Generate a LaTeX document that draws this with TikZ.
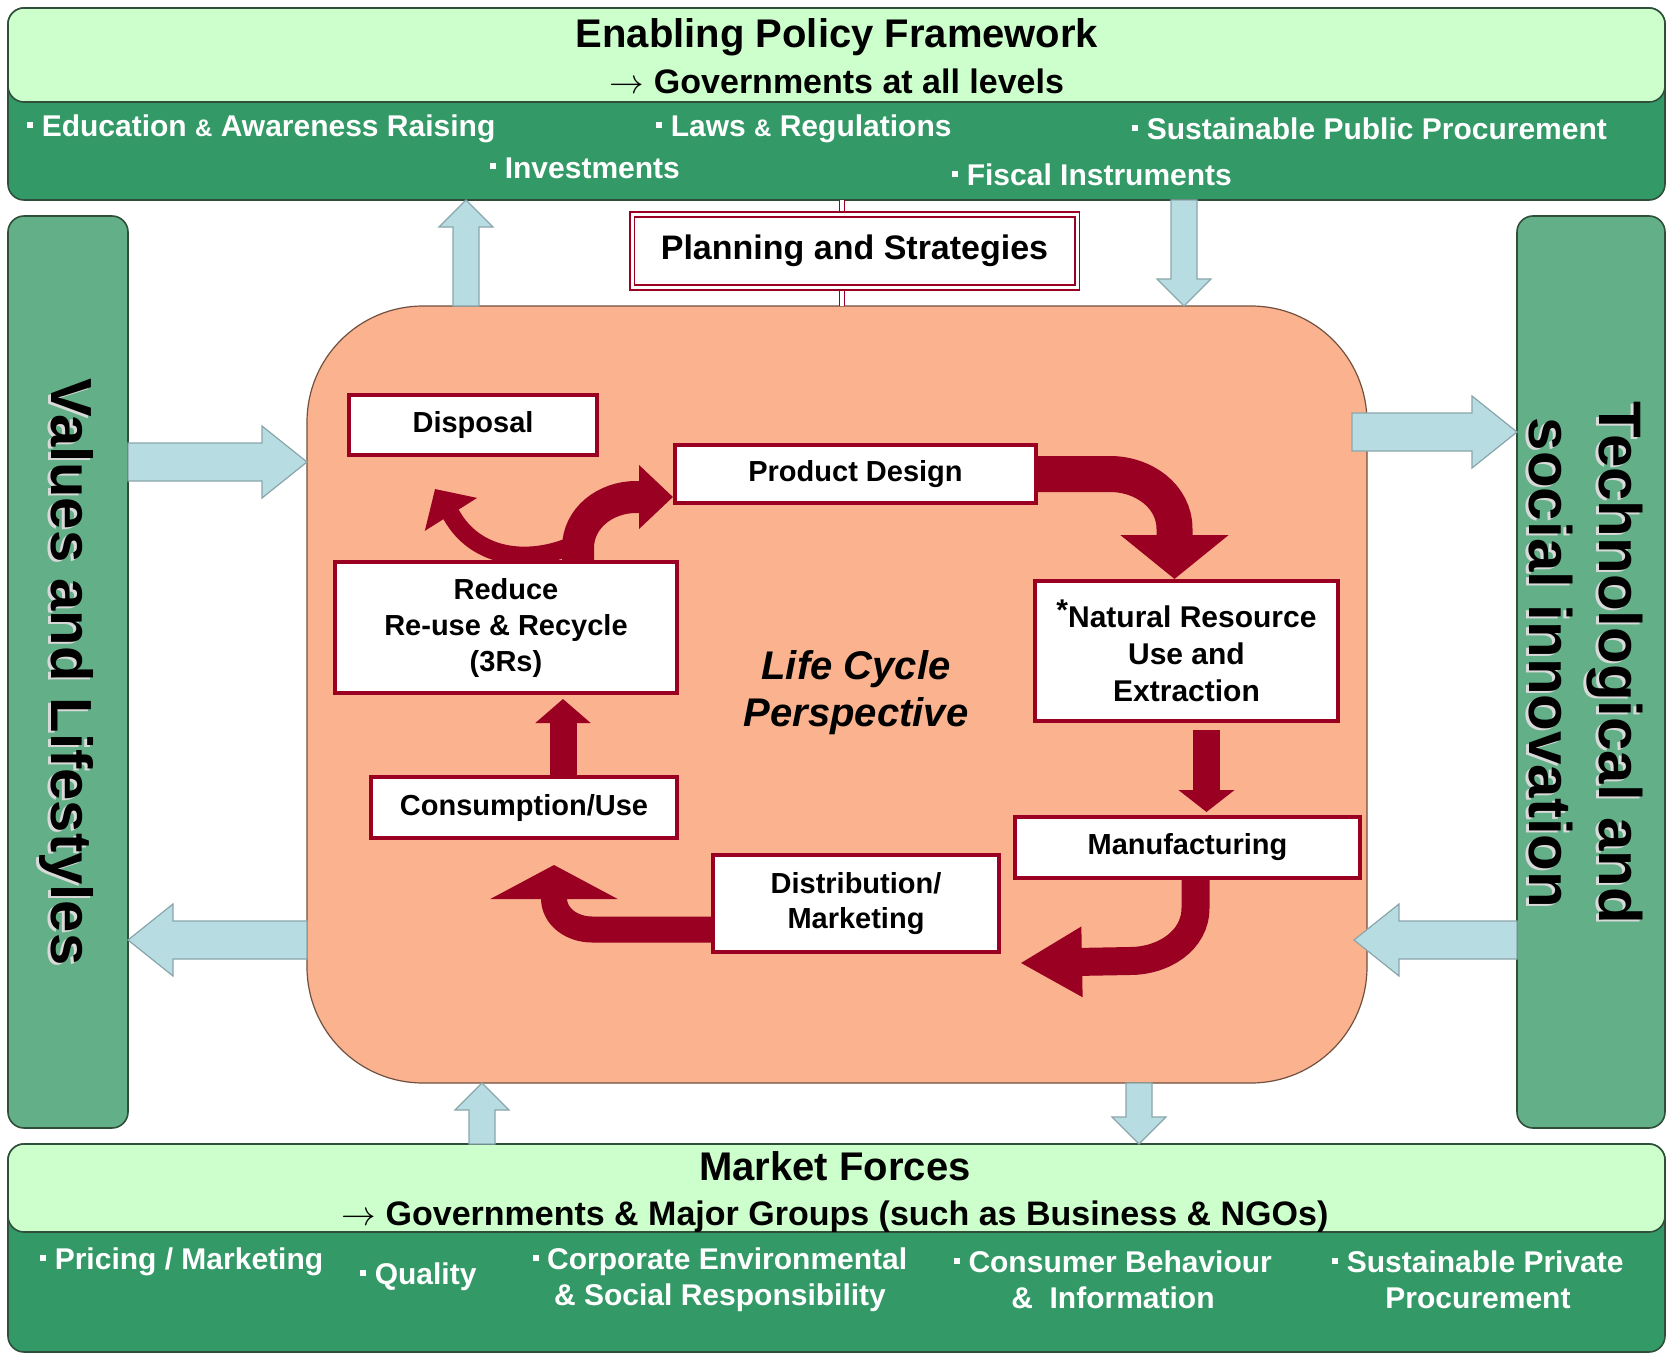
\documentclass[tikz,border=0pt]{standalone}
\usepackage{fontspec}
\setmainfont{Liberation Sans}
\usetikzlibrary{arrows.meta,calc}
\definecolor{lgreen}{HTML}{CCFFCC}
\definecolor{dgreen}{HTML}{339966}
\definecolor{mgreen}{HTML}{63B088}
\definecolor{salmon}{HTML}{FAB28F}
\definecolor{dred}{HTML}{990022}
\definecolor{lblue}{HTML}{B7DDE3}
\definecolor{bgrey}{HTML}{8AA7AC}
\definecolor{edgec}{HTML}{2F4F3A}
\pgfdeclarelayer{bg}\pgfdeclarelayer{mid}\pgfsetlayers{bg,mid,main}
\newcommand\bsq{\raisebox{0.3em}{\rule{0.2em}{0.2em}}\hspace{0.28em}}
\newcommand\smallamp{{\fontsize{12}{12}\selectfont\&}}
\newcommand\myfs[1]{\fontsize{#1}{#1}\selectfont}
% horizontal block arrow: from x=#1 to tip x=#2 at y=#3, direction #4 (1 right, -1 left)
\newcommand\harr[4]{\filldraw[barrow] ({#1},{#3-19}) -- ({#2-45*#4},{#3-19}) -- ({#2-45*#4},{#3-36}) -- ({#2},{#3}) -- ({#2-45*#4},{#3+36}) -- ({#2-45*#4},{#3+19}) -- ({#1},{#3+19}) -- cycle;}
% vertical block arrow: at x=#1 from y=#2 to tip y=#3, direction #4 (1 down, -1 up)
\newcommand\varr[4]{\filldraw[barrow] ({#1-13},{#2}) -- ({#1-13},{#3-27*#4}) -- ({#1-27},{#3-27*#4}) -- ({#1},{#3}) -- ({#1+27},{#3-27*#4}) -- ({#1+13},{#3-27*#4}) -- ({#1+13},{#2}) -- cycle;}
\begin{document}
\begin{tikzpicture}[x=0.5pt,y=-0.5pt,
  box/.style={draw=dred, line width=2pt, fill=white, inner sep=0pt, font=\myfs{14.5}\bfseries, align=center},
  barrow/.style={fill=lblue, draw=bgrey, line width=0.6pt},
  band/.style={draw=edgec, line width=0.8pt, rounded corners=8pt},
  wtxt/.style={text=white, font=\myfs{15}\bfseries, inner sep=0pt, anchor=west},
  rarrow/.style={draw=dred, line cap=butt}]
\useasboundingbox (0,0) rectangle (1672,1354);
\begin{pgfonlayer}{bg}
  \fill[white] (0,0) rectangle (1672,1354);
  \draw[band, fill=dgreen] (8,8) rectangle (1665,200);
  \draw[band, fill=lgreen] (8,8) rectangle (1665,102);
  \draw[band, fill=dgreen] (8,1144) rectangle (1665,1352);
  \draw[band, fill=lgreen] (8,1144) rectangle (1665,1232);
  \draw[band, fill=mgreen] (8,216) rectangle (128,1128);
  \draw[band, fill=mgreen] (1517,216) rectangle (1665,1128);
  \draw[fill=salmon, draw=salmon!45!black, line width=0.6pt, rounded corners=58pt] (307,306) rectangle (1367,1083);
\end{pgfonlayer}

% top band texts
\node[font=\myfs{20}\bfseries] (t1) at (837,37) {Enabling Policy Framework};
\node[font=\myfs{17}\bfseries] (t2) at (837,81) {$\rightarrow$ Governments at all levels};
\node[wtxt] (p1) at (27,129) {\bsq Education \smallamp{} Awareness Raising};
\node[wtxt] (p2) at (656,129) {\bsq Laws \smallamp{} Regulations};
\node[wtxt] (p3) at (1132,129) {\bsq Sustainable Public Procurement};
\node[wtxt] (p4) at (490,168) {\bsq Investments};
\node[wtxt] (p5) at (952,175) {\bsq Fiscal Instruments};

% bottom band texts
\node[font=\myfs{20}\bfseries] (m1) at (835,1166) {Market Forces};
\node[font=\myfs{17}\bfseries] (m2) at (835,1217) {$\rightarrow$ Governments \& Major Groups (such as Business \& NGOs)};
\node[wtxt] (q1) at (40,1262) {\bsq Pricing / Marketing};
\node[wtxt] (q2) at (360,1277) {\bsq Quality};
\node[wtxt, anchor=center, align=center, font=\fontsize{15}{18}\bfseries] (q3) at (720,1280) {\bsq Corporate Environmental\\ \& Social Responsibility};
\node[wtxt, anchor=center, align=center, font=\fontsize{15}{18}\bfseries] (q4) at (1113,1280) {\bsq Consumer Behaviour\\ \&\ \ Information};
\node[wtxt, anchor=center, align=center, font=\fontsize{15}{18}\bfseries] (q5) at (1478,1280) {\bsq Sustainable Private\\ Procurement};

% side panel texts
\node[rotate=-90, font=\myfs{29}\bfseries, text=white!70!gray] at (63,674) {Values and Lifestyles};
\node[rotate=-90, font=\myfs{29}\bfseries] (vl) at (66,672) {Values and Lifestyles};
\node[rotate=-90, font=\fontsize{30}{35}\bfseries, align=center, text=white!70!gray] at (1583,665) {Technological and\\ social innovation};
\node[rotate=-90, font=\fontsize{30}{35}\bfseries, align=center] (ti) at (1586,663) {Technological and\\ social innovation};

% centre
\node[font=\fontsize{20}{23.5}\bfseries\itshape, align=center] (lc) at (856,693) {Life Cycle\\ Perspective};
\node[draw=dred, double=white, double distance=1.5pt, line width=0.9pt, fill=white, minimum width=222.5pt, minimum height=36.5pt, inner sep=0pt, font=\myfs{17}\bfseries] (plan) at (854.5,251) {Planning and Strategies};

\node[box, minimum width=124pt, minimum height=30pt] (disp) at (473,425) {Disposal};
\node[box, minimum width=180.5pt, minimum height=29pt] (pd) at (855.5,474) {Product Design};
\node[box, minimum width=171pt, minimum height=65.5pt, font=\fontsize{14.5}{18}\bfseries] (three) at (506,627.5) {Reduce\\ Re-use \& Recycle\\ (3Rs)};
\node[box, minimum width=151.5pt, minimum height=70pt, font=\fontsize{15}{18.5}\bfseries] (nr) at (1186.5,651) {\raisebox{0.25em}{*}Natural Resource\\ Use and\\ Extraction};
\node[box, minimum width=172.5pt, minimum height=30.5pt] (man) at (1187.5,847.5) {Manufacturing};
\node[box, minimum width=143pt, minimum height=48.5pt, font=\fontsize{14.5}{17.5}\bfseries] (dist) at (856,903.5) {Distribution/\\ Marketing};
\node[box, minimum width=153pt, minimum height=30.5pt] (cons) at (524,807.5) {Consumption/Use};

\begin{pgfonlayer}{mid}
  % double line behind planning box
  \coordinate (vtop) at (842,200);
  \coordinate (vbot) at (842,306);
  \draw[draw=dred, double=white, double distance=2pt, line width=0.7pt] (vtop) -- (vbot);
  % light blue block arrows
  \harr{128}{307}{462}{1}
  \harr{307}{128}{940}{-1}
  \harr{1352}{1517}{432}{1}
  \harr{1517}{1354}{940}{-1}
  \varr{466}{306}{200}{-1}
  \varr{1184}{200}{306}{1}
  \varr{482}{1144}{1083}{-1}
  \varr{1139}{1083}{1144}{1}
  % life cycle arrows (to-angles are page angles: 90 = up)
  \draw[rarrow, line width=18pt, -{Triangle[length=22pt,width=53pt]}]
    (pd.east) -- ++(72,0) to[out=0,in=90] ($(nr.north)+(-12,-50)$) -- ($(nr.north)+(-12,0)$);
  \draw[rarrow, line width=13.5pt, -{Triangle[length=11pt,width=27.5pt]}]
    ($(nr.south)+(20,7)$) -- ($(man.north)+(19,-3)$);
  \draw[rarrow, line width=14pt, -{Triangle[length=31pt,width=33pt]}]
    ($(man.south)+(8,0)$) -- ++(0,28) to[out=-90,in=0] (1130,961) -- ($(dist.south east)+(19,9)$);
  \draw[rarrow, line width=13pt, -{Triangle[length=17pt,width=63pt]}]
    ($(dist.west)+(0,26)$) -- (592,929.5) to[out=180,in=-90] (554,898) -- ($(cons.south)+(30,25)$);
  \draw[rarrow, line width=13.5pt, -{Triangle[length=12pt,width=27pt]}]
    ($(cons.north)+(39,0)$) -- ($(three.south)+(57,4)$);
  \draw[rarrow, line width=9pt, -{Triangle[length=15pt,width=30pt]}]
    ($(three.north)+(60,-12)$) to[out=200,in=-60] (452,516) -- ($(disp.south)+(-38,32)$);
  \draw[rarrow, line width=16pt, -{Triangle[length=17pt,width=31pt]}]
    ($(three.north)+(72,0)$) -- ++(0,-12) to[out=90,in=180] (636,497) -- ($(pd.west)+(0,23)$);
\end{pgfonlayer}
\end{tikzpicture}
\end{document}
